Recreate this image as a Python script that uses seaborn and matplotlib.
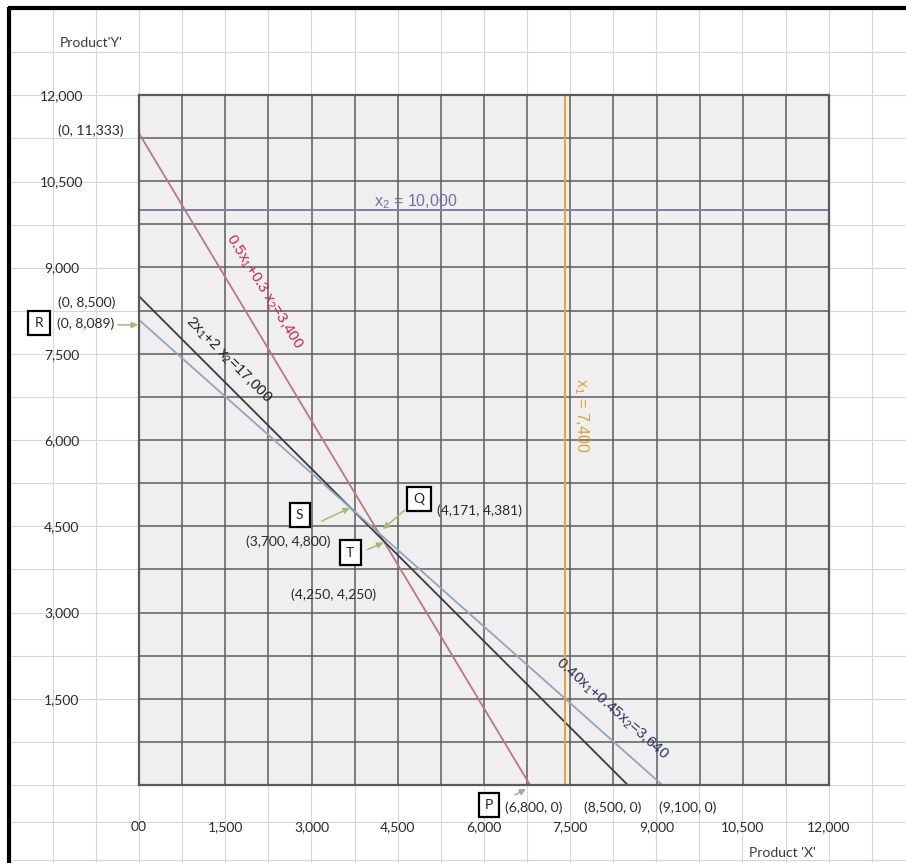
import numpy as np
import pandas as pd
import matplotlib
matplotlib.use("Agg")
import matplotlib.pyplot as plt
import matplotlib.transforms as mtransforms
from matplotlib.ticker import MultipleLocator
import seaborn as sns

# ---------------- data ----------------
tick_values = [0, 1500, 3000, 4500, 6000, 7500, 9000, 10500, 12000]
x_tick_labels = ["00", "1,500", "3,000", "4,500", "6,000", "7,500", "9,000", "10,500", "12,000"]
y_tick_labels = ["", "1,500", "3,000", "4,500", "6,000", "7,500", "9,000", "10,500", "12,000"]

constraint_labels = ["0.5x$_1$+0.3 x$_2$=3,400", "2x$_1$+2 x$_2$=17,000", "0.40x$_1$+0.45x$_2$=3,640"]
x_intercepts = [6800, 8500, 9100]
y_intercepts = [11333, 8500, 8089]

x2_limit = 10000          # horizontal line x2 = 10,000
x1_limit = 7400           # vertical line  x1 = 7,400

point_x = [0, 0, 0, 3700, 4171, 4250, 6800, 8500, 9100]
point_y = [11333, 8500, 8089, 4800, 4381, 4250, 0, 0, 0]
point_labels = ["(0, 11,333)", "(0, 8,500)", "(0, 8,089)", "(3,700, 4,800)", "(4,171, 4,381)",
                "(4,250, 4,250)", "(6,800, 0)", "(8,500, 0)", "(9,100, 0)"]
corner_names = ["", "", "R", "S", "Q", "T", "P", "", ""]

# ---------------- style ----------------
sns.set_theme(style="white")
plt.rcParams["font.family"] = ["Lato", "DejaVu Sans"]
plt.rcParams["mathtext.default"] = "regular"
NARROW = ["Liberation Sans Narrow", "Liberation Sans", "DejaVu Sans"]

W, H = 906, 863
fig = plt.figure(figsize=(W / 100, H / 100), dpi=100)
fig.patch.set_facecolor("white")

# spreadsheet-like background
bg = fig.add_axes([0, 0, 1, 1], zorder=-1)
bg.set_xlim(0, W)
bg.set_ylim(H, 0)
bg.axis("off")
for gx in np.arange(139 - 3 * 43.1, W, 43.1):
    bg.plot([gx, gx], [8, H], color="#d6d6d6", lw=0.8)
for gy in list(np.arange(785, 0, -43.1)) + [822, 860]:
    bg.plot([9, W], [gy, gy], color="#d6d6d6", lw=0.8)
bg.plot([8, W], [8, 8], color="black", lw=3, solid_capstyle="butt")
bg.plot([9, 9], [7, H], color="black", lw=3, solid_capstyle="butt")

# main axes
ax = fig.add_axes([139 / W, (H - 785) / H, 690 / W, 690 / H])
ax.set_facecolor("#efefef")
ax.set_xlim(0, 12000)
ax.set_ylim(0, 12000)
ax.xaxis.set_minor_locator(MultipleLocator(750))
ax.yaxis.set_minor_locator(MultipleLocator(750))
ax.grid(True, which="both", color="#5c5c5c", lw=1.1)
ax.set_axisbelow(True)
for sp in ax.spines.values():
    sp.set_color("#5a5a5a")
    sp.set_linewidth(1.6)

ax.set_xticks(tick_values)
ax.set_xticklabels(x_tick_labels)
ax.set_yticks(tick_values)
ax.set_yticklabels(y_tick_labels)
ax.tick_params(axis="x", which="major", direction="inout", length=14, width=1.5,
               color="#333333", pad=19, labelsize=10, labelcolor="#2a2a2a")
ax.tick_params(axis="y", which="major", direction="inout", length=13, width=1.5,
               color="#333333", pad=49, labelsize=10, labelcolor="#2a2a2a")
ax.tick_params(which="minor", length=0)
for lbl in ax.get_yticklabels():
    lbl.set_horizontalalignment("center")

# constraint lines
line_colors = ["#c07480", "#3a3a3a", "#8fa5c2"]
for xi, yi, c in zip(x_intercepts, y_intercepts, line_colors):
    df = pd.DataFrame({"x1": [0, xi], "x2": [yi, 0]})
    sns.lineplot(data=df, x="x1", y="x2", ax=ax, color=c, lw=1.3, sort=False, estimator=None)

sns.lineplot(x=[0, 12000], y=[x2_limit, x2_limit], ax=ax, color="#8576b6", lw=1.4)
sns.lineplot(x=[x1_limit, x1_limit], y=[0, 12000], ax=ax, color="#f0a040", lw=1.5,
             sort=False, estimator=None)
ax.set_xlabel("")
ax.set_ylabel("")

# constraint labels (data position, rotation, colour)
lab_pos = [(2174, 8574), (1565, 7391), (8226, 1322)]
lab_rot = [-58, -45, -41.5]
lab_col = ["#d0204e", "#1e1e1e", "#2e2e5e"]
for txt, (lx, ly), r, c in zip(constraint_labels, lab_pos, lab_rot, lab_col):
    ax.text(lx, ly, txt, rotation=r, rotation_mode="anchor", ha="center", va="center",
            color=c, fontsize=11, family=NARROW)
ax.text(4817, 10139, "x$_2$ = 10,000", ha="center", va="center", color="#7a6aa6",
        fontsize=11.5, family=NARROW)
ax.text(7687, 6435, "x$_1$ = 7,400", rotation=-90, rotation_mode="anchor", ha="center",
        va="center", color="#d9a040", fontsize=11.5, family=NARROW)

# point labels: offsets in pixels (right, down)
label_off = [(-48, -3), (-52, 6), (-53, 4), (-63, 33), (101, -22), (-50, 54), (4, 23), (-15, 23), (25, 23)]
box_off = {"R": (-100, 3), "S": (-52, 6), "Q": (40, -34), "T": (-33, 12), "P": (-41, 20)}
arrow_off = {"R": ((-21, 5), (-1, 5)), "S": ((-30, 12), (-2, -1)), "Q": ((26, -23), (4, -4)),
             "T": ((-16, 9), (0, 2)), "P": ((-15, 10), (-4, 4))}

def off(dx, dy):
    return mtransforms.offset_copy(ax.transData, fig=fig, x=dx, y=-dy, units="dots")

for px, py, txt, name, (dx, dy) in zip(point_x, point_y, point_labels, corner_names, label_off):
    ax.text(px, py, txt, transform=off(dx, dy), ha="center", va="center",
            fontsize=10, color="#2a2a2a", clip_on=False)
    if name:
        bx, by = box_off[name]
        ax.text(px, py, name, transform=off(bx, by), ha="center", va="center", fontsize=10,
                color="#222222", clip_on=False,
                bbox=dict(boxstyle="square,pad=0.45", fc="white", ec="black", lw=1.6))
        (tx, ty), (hx, hy) = arrow_off[name]
        acol = "#a7a7a7" if name == "P" else "#9fbd73"
        ax.annotate("", xy=(px, py), xycoords=off(hx, hy),
                    xytext=(px, py), textcoords=off(tx, ty),
                    arrowprops=dict(arrowstyle="-|>", color=acol, lw=1.1, mutation_scale=9,
                                    shrinkA=0, shrinkB=0),
                    annotation_clip=False)

# axis titles
fig.text(91 / W, 1 - 43 / H, "Product'Y'", ha="center", va="center", fontsize=10, color="#3a3a3a")
fig.text(782 / W, 1 - 853 / H, "Product 'X'", ha="center", va="center", fontsize=10, color="#3a3a3a")

fig.savefig("out.png", dpi=100)
